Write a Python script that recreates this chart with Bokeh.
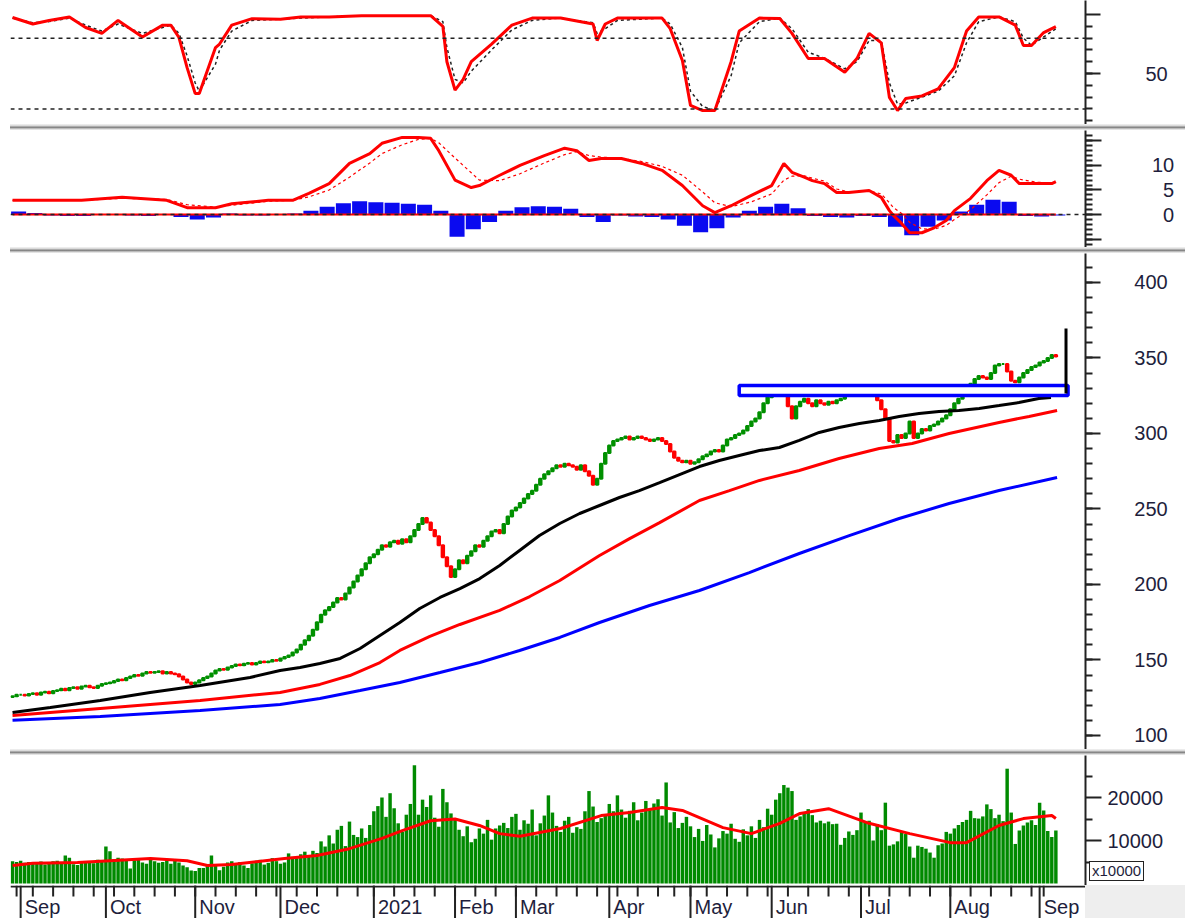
import pandas as pd
from bokeh.plotting import figure
from bokeh.layouts import column, row
from bokeh.models import Range1d, FixedTicker, Span, Div
from bokeh.embed import file_html
from bokeh.resources import INLINE
from bokeh.core.properties import value

# ---------------- calendar (trading days) ----------------
holidays = ["2020-09-02", "2021-01-01", "2021-02-10", "2021-02-11", "2021-02-12",
            "2021-02-15", "2021-02-16", "2021-04-21", "2021-04-30", "2021-05-03",
            "2021-09-02", "2021-09-03"]
month_labels = ["Sep", "Oct", "Nov", "Dec", "2021", "Feb", "Mar", "Apr",
                "May", "Jun", "Jul", "Aug", "Sep"]

# ---------------- daily closes ----------------
close_aug20 = [126, 127]
close_sep20 = [127, 126.5, 127.5, 128, 127, 128.5, 129, 128, 129.5, 130, 131, 130, 131.5,
               132, 131, 132.5, 133, 132, 131.5, 133, 134]
close_oct20 = [134.5, 135, 136, 137, 136.5, 138, 139, 140, 139.5, 141, 142, 141.5, 142,
               142.5, 141, 142, 141, 140.5, 139, 137, 135, 134]
close_nov20 = [135, 136.5, 138, 139, 141, 143, 144, 143.5, 145, 146, 147, 146.5, 147.5,
               148, 147, 148, 149, 148.5, 149, 150, 149.5]
close_dec20 = [151, 152, 153, 155, 157, 160, 163, 166, 170, 175, 180, 183, 185, 188, 191,
               190, 194, 198, 202, 206, 210, 214, 218]
close_jan21 = [220, 223, 226, 225, 228, 229, 227, 230, 228, 232, 236, 240, 244, 241, 236,
               232, 226, 218, 212, 205]
close_feb21 = [210, 216, 214, 219, 222, 226, 225, 229, 232, 235, 236, 234, 240, 245, 249]
close_mar21 = [251, 254, 257, 260, 262, 266, 270, 273, 275, 277, 279, 278, 280, 279, 278,
               276, 279, 275, 272, 266, 270, 280, 287]
close_apr21 = [292, 295, 296, 297, 298, 296, 297, 298, 297, 296, 295, 296, 297, 295, 293,
               288, 284, 282, 281, 282]
close_may21 = [280, 281, 283, 285, 286, 288, 289, 288, 292, 296, 297, 299, 300, 302, 305,
               308, 310, 314, 320, 324]
close_jun21 = [326, 328, 331, 327, 318, 310, 318, 321, 323, 320, 318, 322, 320, 319, 321,
               320, 322, 323, 325, 327, 329, 330]
close_jul21 = [330, 331, 329, 327, 322, 316, 310, 295, 294, 299, 297, 300, 308, 297, 300,
               303, 302, 305, 306, 308, 310, 312]
close_aug21 = [316, 320, 323, 326, 329, 333, 336, 338, 337, 336, 340, 345, 346, 346, 341,
               335, 334, 337, 340, 342, 344, 345]
close_sep21 = [347, 348, 350, 352, 351]

# ---------------- daily volume (x10000) ----------------
vol_aug20 = [5200, 5000]
vol_sep20 = [5300, 4800, 5000, 4600, 4900, 5100, 4400, 4700, 5200, 5300, 4600, 6500, 6000,
             4500, 4300, 4800, 4900, 5200, 4700, 5500, 5100]
vol_oct20 = [8600, 7500, 5600, 6000, 5800, 5500, 3500, 5400, 5900, 4900, 4600, 5700, 5200,
             4800, 5000, 5500, 4600, 5600, 4900, 4200, 3800, 3000]
vol_nov20 = [2900, 3600, 3600, 4500, 6500, 4300, 3100, 3900, 4900, 5200, 4700, 5000, 4200,
             3600, 4700, 5300, 5500, 4400, 4800, 5900, 5200]
vol_dec20 = [4600, 4900, 7000, 6200, 5900, 6800, 7400, 6600, 7600, 7100, 9800, 8600, 11200,
             9300, 12500, 13400, 8700, 14400, 11300, 10800, 12800, 10600, 13600]
vol_jan21 = [16800, 18000, 20000, 15500, 21000, 17500, 14000, 12000, 16000, 18500, 27500,
             16000, 19500, 17800, 20500, 15300, 13200, 22000, 18900, 16300]
vol_feb21 = [14800, 12500, 11000, 13300, 9600, 10400, 12800, 11600, 14800, 10200, 12800,
             13500, 14100, 12900, 15500]
vol_mar21 = [16200, 12500, 14700, 13900, 17200, 11200, 14000, 15800, 20500, 16500, 13400,
             12000, 14600, 15500, 11800, 13100, 12700, 16800, 21500, 17900, 14300, 15200, 16100]
vol_apr21 = [18500, 16800, 20500, 17200, 15300, 16900, 18900, 14700, 16500, 19200, 17300,
             18600, 19600, 15800, 23500, 14200, 16600, 12900, 14100, 15500]
vol_may21 = [13300, 10800, 12700, 9900, 13600, 11400, 8400, 10500, 12200, 11600, 13900,
             10400, 9700, 12600, 11200, 13300, 10600, 14800, 13100, 17400]
vol_jun21 = [16000, 19500, 21000, 22900, 22300, 21500, 14800, 15600, 16200, 17300, 15900,
             14200, 14600, 14000, 14400, 13800, 13900, 9000, 10600, 12100, 11300, 12400]
vol_jul21 = [16500, 14300, 14600, 10000, 13800, 12400, 18800, 8800, 9100, 9800, 12100,
             11500, 8600, 6000, 8800, 8500, 8100, 7200, 6000, 8900, 9300, 12000]
vol_aug21 = [11600, 12800, 13600, 14300, 14800, 16900, 15200, 15100, 15600, 18400, 17300,
             15200, 16000, 14500, 26700, 16500, 9200, 12300, 13500, 14200, 14700, 13600]
vol_sep21 = [18800, 17000, 12200, 10800, 12300]

# ---------------- moving averages (day index, value) ----------------
ma_black_day = [0, 9.3, 21.6, 33.9, 46.2, 58.5, 65.9, 70.8, 75.7, 80.7, 85.6, 90.5, 95.4,
                100.3, 105.3, 110.2, 115.1, 120, 124.9, 129.8, 134.8, 139.7, 144.6, 149.5,
                154.4, 159.4, 164.3, 169.2, 174.1, 179, 184, 188.9, 193.8, 198.7, 203.6,
                208.6, 213.5, 218.4, 223.3, 228.2, 233.1, 238.1, 243, 247.9, 252.8, 255.8]
ma_black = [115.2, 118.5, 123.2, 128.5, 133.1, 138.4, 143.0, 145.0, 147.7, 151.0, 157.6,
            166.2, 174.8, 184.1, 191.4, 197.3, 203.9, 212.6, 222.5, 232.4, 240.4, 247.0,
            252.3, 257.6, 262.2, 267.5, 272.8, 278.1, 282.1, 285.4, 288.7, 290.7, 295.4,
            300.7, 304.0, 306.6, 308.6, 311.3, 313.2, 314.6, 315.2, 316.6, 318.5, 320.5,
            323.2, 323.8]
ma_red_day = [0, 21.6, 46.2, 65.9, 75.7, 83.1, 90.5, 95.4, 102.8, 110.2, 120, 127.4, 134.8,
              144.6, 152, 159.4, 169.2, 176.6, 184, 193.8, 203.6, 213.5, 221.6, 230.7, 243,
              250.4, 257.3]
ma_red = [113.2, 117.9, 123.2, 128.5, 133.8, 139.7, 148.3, 156.3, 165.6, 173.5, 182.8,
          192.0, 202.6, 219.2, 230.4, 241.0, 255.6, 262.2, 268.9, 275.5, 283.4, 290.1,
          293.4, 300.0, 307.3, 311.3, 315.2]
ma_blue_day = [0, 21.6, 46.2, 65.9, 75.7, 85.6, 95.4, 105.3, 115.1, 124.9, 134.8, 144.6,
               156.9, 169.2, 181.5, 193.8, 206.1, 218.4, 230.7, 243, 257.3]
ma_blue = [110.0, 112.6, 116.6, 120.5, 124.5, 129.8, 135.1, 141.7, 148.3, 156.3, 164.9,
           174.8, 186.1, 196.0, 207.9, 220.5, 232.4, 243.7, 253.6, 262.2, 270.9]

vol_ma_day = [0, 5, 16, 24, 34, 43, 48, 54, 67, 75, 83, 91, 96, 103, 109, 115, 120, 125,
              135, 145, 152, 160, 165, 175, 182, 189, 194, 201, 211, 221, 231, 235, 243,
              249, 256, 257]
vol_ma = [4200, 4700, 4900, 5300, 5800, 5300, 4200, 4400, 5800, 6500, 8100, 10500, 12300,
          14600, 15000, 13500, 11600, 11000, 12800, 15800, 16500, 17700, 17000, 13000,
          11600, 14000, 16300, 17400, 14000, 11600, 9500, 9500, 13500, 15100, 15800, 15100]

# ---------------- stochastic ----------------
stoch_day = [0, 5, 9, 14, 18, 22, 26, 32, 37, 39, 41, 43, 45, 46, 50, 51, 54, 59, 66, 71,
             78, 86, 96, 103, 106, 107, 109, 111, 113, 118, 123, 128, 135, 143, 144, 146,
             149, 160, 162, 165, 167, 170, 173, 177, 179, 184, 189, 192, 196, 200, 205,
             208, 211, 214, 216, 218, 220, 224, 228, 232, 235, 238, 243, 247, 249, 251,
             254, 257]
stoch_k = [97.5, 92, 95, 98, 89, 84, 95, 81, 91, 91, 80.5, 55, 33, 33, 72, 75, 91, 96.5,
           96, 98, 98, 99, 99, 99, 90, 60, 36, 45, 60, 75, 91, 97, 97, 92, 78, 92, 97, 97,
           88, 61, 23, 18.6, 18.6, 60, 86, 97, 96.6, 84, 62.7, 62.7, 51, 62.7, 84, 76,
           29.7, 18.6, 28.8, 31, 37, 55, 86, 98, 98, 91, 73.7, 73.7, 84.7, 89.8]
stoch_d = [97, 93, 94, 97, 91, 86, 92, 84, 89, 91, 84, 65, 42, 35, 58, 70, 86, 95, 96, 97,
           98, 99, 99, 99, 94, 72, 45, 42, 52, 70, 87, 95, 97, 93, 84, 88, 95, 97, 92, 72,
           35, 22, 19, 48, 76, 94, 97, 88, 68, 63, 54, 60, 78, 78, 42, 24, 25, 30, 35, 48,
           76, 94, 98, 94, 80, 74, 81, 88]

# ---------------- MACD ----------------
macd_day = [0, 6, 17, 27, 38, 43, 50, 54, 63, 69, 73, 78, 83, 88, 91, 96, 100, 103, 105,
            109, 113, 115, 120, 125, 131, 136, 139, 142, 145, 150, 155, 160, 165, 170, 173,
            177, 182, 187, 190, 192, 195, 197, 200, 203, 206, 211, 214, 216, 217, 219, 221,
            224, 227, 230, 232, 236, 240, 243, 246, 248, 252, 256, 257]
macd_line = [2.9, 2.9, 2.9, 3.5, 2.9, 1.4, 1.4, 2.2, 2.9, 2.9, 4.3, 6.3, 10.4, 12.4, 14.5,
             15.7, 15.7, 15.5, 13, 7, 5.5, 5.9, 8, 10, 12, 13.5, 13, 11, 11.4, 11.4, 10.4,
             9, 5.9, 1.8, 0.4, 1.8, 3.9, 5.9, 10.4, 8.6, 7.6, 6.9, 6.3, 4.5, 4.5, 4.9, 3.5,
             0.8, -0.2, -1.8, -3.7, -3.7, -2.7, -1.2, 0.8, 3.3, 6.9, 9, 8, 6.3, 6.3, 6.3, 6.7]
macd_signal = [2.9, 2.9, 2.9, 3.3, 3.1, 2.0, 1.5, 1.9, 2.7, 2.9, 3.6, 5.0, 7.6, 10.5, 12.4,
               14.2, 15.3, 15.5, 14.6, 11.5, 8.5, 7.0, 6.9, 8.3, 10.5, 12.2, 12.8, 12.0,
               11.7, 11.4, 10.8, 9.8, 8.0, 4.6, 2.4, 1.6, 2.6, 4.2, 7.0, 7.8, 7.9, 7.4, 6.8,
               5.2, 4.6, 4.8, 4.2, 2.4, 1.4, 0.2, -1.6, -2.9, -3.0, -2.2, -1.0, 1.0, 4.0,
               6.5, 7.8, 7.2, 6.6, 6.4, 6.5]
hist_day = list(range(0, 257, 4))
hist_val = [0.6, 0.3, -0.2, -0.3, -0.3, -0.1, 0.1, -0.2, -0.3, -0.1,
            -0.5, -1.0, -0.6, 0.2, -0.2, -0.2, 0.0, 0.2, 0.8, 1.6,
            2.3, 2.7, 2.5, 2.4, 2.2, 2.0, 0.8, -4.5, -3.0, -1.5,
            0.8, 1.5, 1.7, 1.6, 1.2, -0.5, -1.5, -0.2, -0.4, -0.5,
            -1.0, -2.3, -3.6, -2.8, -0.6, 0.8, 1.6, 2.2, 1.3, -0.3,
            -0.5, -0.6, -0.3, -0.5, -2.5, -4.2, -2.5, -1.2, 0.6, 2.0,
            3.0, 2.6, -0.3, -0.4, -0.2]

# ---------------- drawn annotations ----------------
zone_day = [179, 260]
zone_price = [325.2, 331.8]
marker_day = 259.5
marker_price = [326.5, 369.5]

# =========================================================
dates = pd.bdate_range("2020-08-28", "2021-09-09")
dates = dates[~dates.isin(pd.to_datetime(holidays))]
month_start = [i for i in range(1, len(dates)) if dates[i].month != dates[i - 1].month]
week_start = [i for i in range(1, len(dates)) if dates[i].weekday() < dates[i - 1].weekday()]

close = (close_aug20 + close_sep20 + close_oct20 + close_nov20 + close_dec20 + close_jan21
         + close_feb21 + close_mar21 + close_apr21 + close_may21 + close_jun21 + close_jul21
         + close_aug21 + close_sep21)
volume = (vol_aug20 + vol_sep20 + vol_oct20 + vol_nov20 + vol_dec20 + vol_jan21 + vol_feb21
          + vol_mar21 + vol_apr21 + vol_may21 + vol_jun21 + vol_jul21 + vol_aug21 + vol_sep21)
opens = [close[0] - 0.5] + close[:-1]
days = list(range(len(close)))
up_col, dn_col = "#009000", "#ff0000"
cdl_col = [up_col if c >= o else dn_col for c, o in zip(close, opens)]
cdl_top = [max(c, o) for c, o in zip(close, opens)]
cdl_bot = [min(c, o) for c, o in zip(close, opens)]

FONT = "Liberation Sans"
TXT = "#1e1e3c"
NB = "\u00a0"
xr = Range1d(-0.5, 264.3)


def panel(fh, y0, y1, major, minor, overrides=None, tick_long=15):
    p = figure(frame_width=1075, frame_height=fh, x_range=xr, y_range=Range1d(y0, y1),
               output_backend="svg", toolbar_location=None, x_axis_location=None,
               y_axis_location="right", min_border_left=10, min_border_right=100,
               min_border_top=0, min_border_bottom=0, background_fill_color="white",
               border_fill_color="white", outline_line_color=None)
    p.grid.visible = False
    ax = p.yaxis[0]
    ax.ticker = FixedTicker(ticks=major, minor_ticks=minor)
    ax.axis_line_color = "#222222"
    ax.axis_line_width = 2
    ax.major_tick_line_color = "#222222"
    ax.minor_tick_line_color = "#222222"
    ax.major_tick_line_width = 2
    ax.minor_tick_line_width = 2
    ax.major_tick_in = 0
    ax.minor_tick_in = 0
    ax.major_tick_out = tick_long
    ax.minor_tick_out = 7
    ax.major_label_standoff = 6
    ax.major_label_text_font = FONT
    ax.major_label_text_font_size = "20px"
    ax.major_label_text_color = TXT
    if overrides:
        ax.major_label_overrides = overrides
    return p


def separator():
    return Div(text="", width=1175, height=6, margin=(0, 0, 0, 10),
               styles={"background": "linear-gradient(to bottom, #f4f4f4 0%, #d6d6d6 30%, "
                                     "#7c7c7c 55%, #cccccc 80%, #f4f4f4 100%)"})


# ---- stochastic ----
ps = panel(124, 6.8, 111.9, [50, 100], list(range(10, 100, 10)),
           {50: NB * 7 + "50", 100: ""})
for lvl in (80, 20):
    ps.add_layout(Span(location=lvl, dimension="width", line_color="#222222",
                       line_width=1.5, line_dash="4 4"))
ps.line(stoch_day, stoch_d, line_color="#222222", line_width=1.5, line_dash="3 3")
ps.line(stoch_day, stoch_k, line_color="#ff0000", line_width=3)

# ---- MACD ----
pm = panel(117, -6.7, 17.1, [-5, 0, 5, 10, 15], list(range(-6, 17)),
           {-5: "", 15: "", 10: NB * 8 + "10", 5: NB * 10 + "5", 0: NB * 10 + "0"},
           tick_long=16)
pm.add_layout(Span(location=0, dimension="width", line_color="#222222",
                   line_width=1.5, line_dash="4 4"))
pm.vbar(x=[d + 1.5 for d in hist_day], top=hist_val, bottom=0, width=3.7,
        fill_color="#0a0af0", line_color=None)
pm.line([0, len(close) - 1], [0, 0], line_color="#ff0000", line_width=2)
pm.line(macd_day, macd_signal, line_color="#ff0000", line_width=1.2, line_dash="3 3")
pm.line(macd_day, macd_line, line_color="#ff0000", line_width=3)

# ---- price ----
price_ticks = list(range(100, 401, 50))
pp = panel(496, 90.7, 419.2, price_ticks, list(range(90, 420, 10)),
           {t: NB * 5 + str(t) for t in price_ticks})
pp.vbar(x=days, top=cdl_top, bottom=cdl_bot, width=0.6, fill_color=cdl_col,
        line_color=cdl_col, line_width=2)
pp.line(ma_blue_day, ma_blue, line_color="#0000ff", line_width=3)
pp.line(ma_red_day, ma_red, line_color="#ff0000", line_width=3)
pp.line(ma_black_day, ma_black, line_color="#000000", line_width=3)
pp.quad(left=[zone_day[0]], right=[zone_day[1]], bottom=[zone_price[0]], top=[zone_price[1]],
        fill_color="white", line_color="#0000ff", line_width=3.5)
pp.line([marker_day, marker_day], marker_price, line_color="#000000", line_width=3)

# ---- volume ----
pv = panel(130, -465, 29770, [10000, 20000], [5000, 15000, 25000], tick_long=16)
pv.vbar(x=list(range(len(volume))), top=volume, bottom=0, width=0.85,
        fill_color="#008a00", line_color=None)
pv.line(vol_ma_day, vol_ma, line_color="#ff0000", line_width=3)

# ---- x-axis strip ----
px = figure(frame_width=1075, frame_height=33, x_range=xr, y_range=Range1d(0, 33),
            output_backend="svg", toolbar_location=None, x_axis_location=None,
            y_axis_location=None, min_border_left=10, min_border_right=0,
            min_border_top=0, min_border_bottom=0, background_fill_color="white",
            border_fill_color="white", outline_line_color=None)
px.grid.visible = False
px.add_layout(Span(location=32, dimension="width", line_color="#222222", line_width=2))
px.segment(x0=week_start, y0=22, x1=week_start, y1=33, line_color="#222222", line_width=2)
px.segment(x0=month_start, y0=0, x1=month_start, y1=33, line_color="#222222", line_width=2)
px.text(x=[m + 1 for m in month_start], y=12, text=month_labels[:len(month_start)],
        text_font=value(FONT), text_font_size="20px", text_color=TXT,
        text_align="left", text_baseline="middle")

unit_box = Div(
    text=('<div style="position:relative;top:-24px;left:4px;display:inline-block;'
          'border:1.5px solid #222;background:#fff;color:#1e1e3c;'
          'font-family:\'Liberation Sans\';font-size:15px;line-height:18px;'
          'padding:0 2px;">x10000</div>'),
    width=100, height=33, margin=(0, 0, 0, 0),
    styles={"background": "#eeeeee", "overflow": "visible"})

layout = column(ps, separator(), pm, separator(), pp, separator(), pv,
                row(px, unit_box, spacing=0), spacing=0)
open("out.html", "w").write(file_html(layout, INLINE))
